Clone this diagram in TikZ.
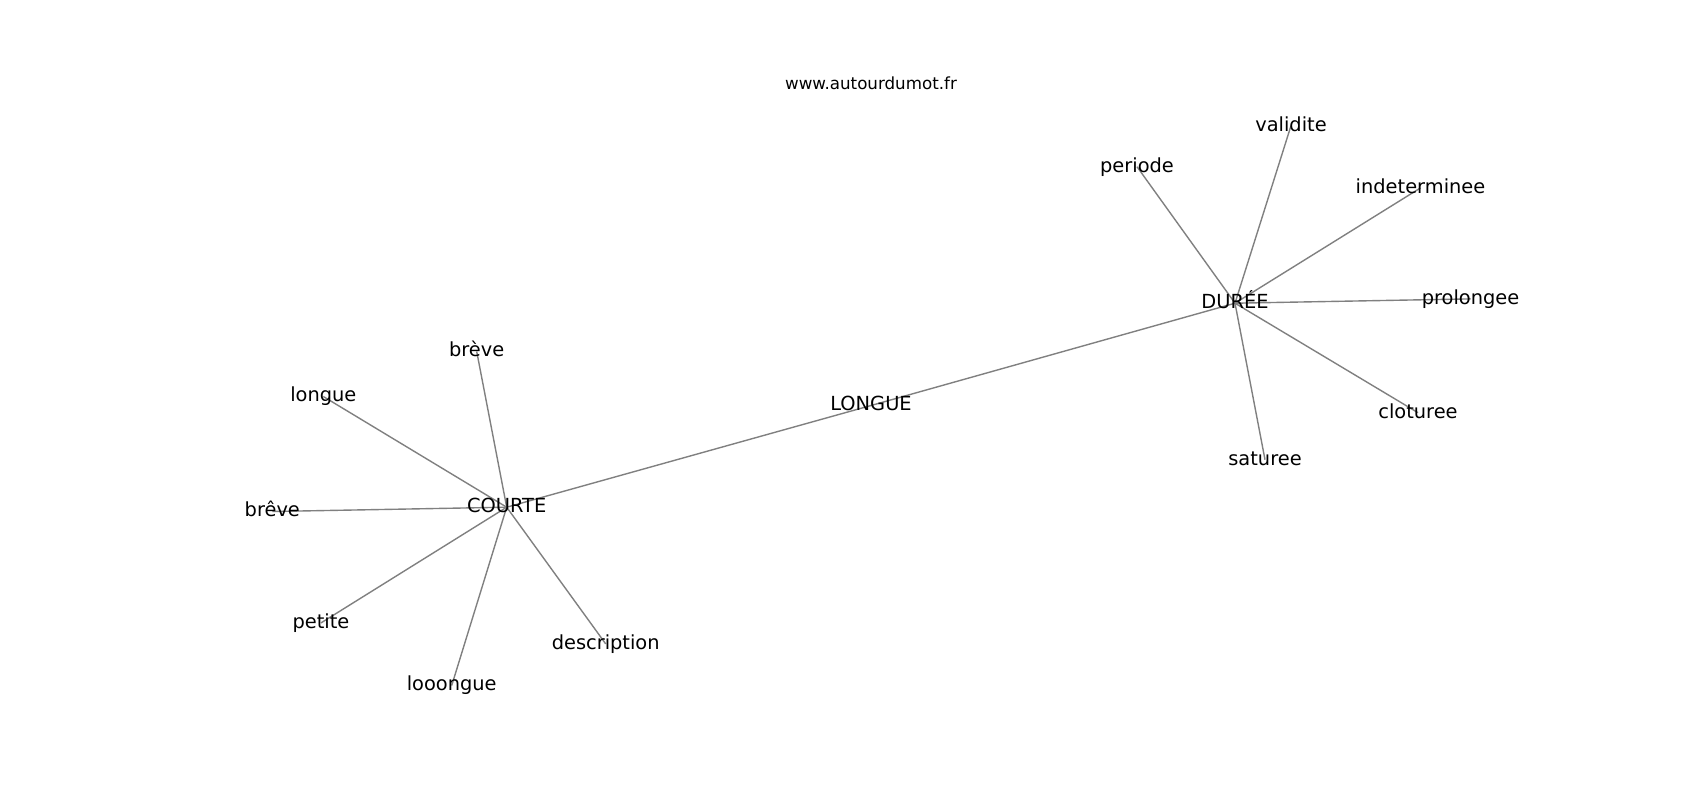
\documentclass[tikz,border=0pt]{standalone}
\usepackage{fontspec}
\setmainfont{DejaVu Sans}
\definecolor{edgegray}{RGB}{128,128,128}
\usetikzlibrary{backgrounds}
\begin{document}
\begin{tikzpicture}[x=1bp,y=-1bp,
  word/.style={inner sep=0pt,outer sep=0pt,anchor=center,text height=1.074em,text depth=0em,font=\fontsize{19.4bp}{23bp}\selectfont},
  titletext/.style={inner sep=0pt,anchor=center,text height=1.16em,text depth=0em,font=\fontsize{16.7bp}{20bp}\selectfont},
  link/.style={draw=edgegray,line width=1.39bp}]
\useasboundingbox (0,0) rectangle (1700,800);
\node[titletext] (title) at (871,83.8) {www.autourdumot.fr};
% centre words
\node[word] (longueC) at (871,405.5) {LONGUE};
\node[word] (courte) at (506.7,507.2) {COURTE};
\node[word] (duree) at (1235,303.2) {DURÉE};
% DURÉE neighbours
\node[word] (validite) at (1291,125.7) {validite};
\node[word] (periode) at (1137,166.7) {periode};
\node[word] (indet) at (1420.5,187.9) {indeterminee};
\node[word] (prolongee) at (1470.5,298.9) {prolongee};
\node[word] (cloturee) at (1418,412.7) {cloturee};
\node[word] (saturee) at (1265,459.7) {saturee};
% COURTE neighbours
\node[word] (breveA) at (476.7,351.5) {brève};
\node[word] (longue) at (323.3,396.5) {longue};
\node[word] (breveB) at (272.3,511.5) {brêve};
\node[word] (petite) at (321,622.9) {petite};
\node[word] (looongue) at (451.7,685.5) {looongue};
\node[word] (description) at (605.7,643.9) {description};
\begin{scope}[on background layer]
\fill[white] (0,0) rectangle (1700,800);
\draw[link] (courte.center) -- (longueC.center);
\draw[link] (longueC.center) -- (duree.center);
\foreach \n in {validite,periode,indet,prolongee,cloturee,saturee}
  \draw[link] (duree.center) -- (\n.center);
\foreach \n in {breveA,longue,breveB,petite,looongue,description}
  \draw[link] (courte.center) -- (\n.center);
\end{scope}
\end{tikzpicture}
\end{document}
